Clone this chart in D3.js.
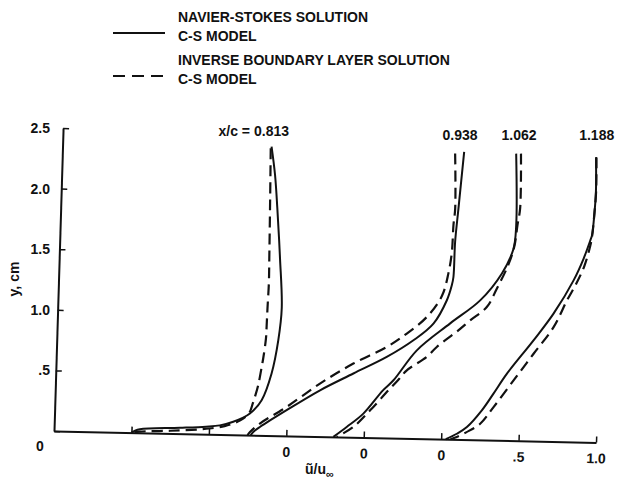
<!DOCTYPE html>
<html>
<head>
<meta charset="utf-8">
<script src="https://cdn.jsdelivr.net/npm/d3@7"></script>
<style>
  body { margin: 0; background: #fff; }
  text { font-family: "Liberation Sans", Arial, sans-serif; font-weight: bold; fill: #111; }
</style>
</head>
<body>
<svg id="chart" width="617" height="485"></svg>
<script>
// station labels and the shift of each profile along the u axis
var stations = ["0.813", "0.938", "1.062", "1.188"];
var offsets = [-2, -1, -0.5, 0];

// [u/u_inf, y (cm)], Navier-Stokes solution (solid)
var ns0813 = [[0.849,2.382],[0.877,2.149],[0.898,1.877],[0.925,1.465],[0.946,1.053],[0.93,0.788],[0.893,0.512],[0.834,0.29],[0.761,0.178],[0.655,0.107],[0.569,0.075],[0.48,0.062],[0.312,0.048],[0.054,0.03],[0.02,0.015],[0,0]];
var ns0938 = [[1.093,2.372],[1.067,1.904],[1.052,1.628],[1.048,1.339],[1.039,1.27],[1.01,1.146],[0.928,0.951],[0.802,0.81],[0.633,0.668],[0.421,0.526],[0.209,0.382],[-0.003,0.212],[-0.172,0.069],[-0.214,0.027],[-0.23,0]];
var ns1062 = [[0.929,2.367],[0.943,1.776],[0.93,1.583],[0.86,1.377],[0.725,1.151],[0.536,0.956],[0.326,0.728],[0.181,0.477],[0.115,0.392],[-0.007,0.197],[-0.112,0.084],[-0.196,0]];
var ns1188 = [[0.945,2.352],[0.951,2.064],[0.946,1.899],[0.934,1.706],[0.924,1.664],[0.884,1.512],[0.824,1.332],[0.701,1.054],[0.577,0.83],[0.412,0.551],[0.329,0.384],[0.257,0.244],[0.164,0.104],[0.1,0.047],[0.03,0]];

// inverse boundary layer solution (dashed)
var ib0813 = [[0.844,2.368],[0.851,1.873],[0.856,1.46],[0.858,1.257],[0.854,1.05],[0.852,0.91],[0.85,0.8],[0.836,0.634],[0.828,0.565],[0.809,0.413],[0.79,0.316],[0.778,0.264],[0.755,0.18],[0.7,0.12],[0.6,0.07],[0.45,0.04],[0.25,0.022],[0.05,0.01],[0,0]];
var ib0938 = [[1.035,2.357],[1.046,1.903],[1.038,1.766],[1.033,1.545],[1.015,1.37],[0.977,1.18],[0.884,1.005],[0.758,0.865],[0.632,0.751],[0.419,0.608],[0.207,0.437],[-0.003,0.239],[-0.173,0.097],[-0.235,0.026],[-0.25,0]];
var ib1062 = [[0.96,2.368],[0.965,1.914],[0.951,1.776],[0.935,1.6],[0.9,1.45],[0.83,1.25],[0.769,1.097],[0.664,0.984],[0.59,0.9],[0.454,0.759],[0.391,0.675],[0.265,0.561],[0.21,0.478],[0.15,0.393],[0.036,0.225],[-0.069,0.085],[-0.174,0]];
var ib1188 = [[0.948,2.35],[0.952,2.06],[0.946,1.9],[0.935,1.7],[0.925,1.62],[0.89,1.45],[0.84,1.3],[0.785,1.165],[0.704,0.943],[0.58,0.72],[0.456,0.497],[0.332,0.273],[0.249,0.134],[0.16,0.06],[0.1,0.02],[0.06,0]];

var xTicks = [-2, -1.5, -1, -0.5, 0, 0.5, 1];
var xTickLabels = ["", "", "0", "0", "0", ".5", "1.0"];
var yTicks = [0, 0.5, 1, 1.5, 2, 2.5];
var yTickLabels = ["0", ".5", "1.0", "1.5", "2.0", "2.5"];

var nsSeries = [ns0813, ns0938, ns1062, ns1188];
var ibSeries = [ib0813, ib0938, ib1062, ib1188];

var svg = d3.select("#chart");

// plot origin and scales (plotted abscissa = u/u_inf + profile offset)
var ox = 54, oy = 431;
var x = d3.scaleLinear().domain([-2.5, 1.0]).range([0, 542]);
var y = d3.scaleLinear().domain([0, 2.5]).range([0, -303]);

// the scanned original is slightly sheared, mimic that
var plot = svg.append("g")
  .attr("transform", "translate(" + ox + "," + oy + ") matrix(1,0.021,-0.03,1,0,0)");

// x axis, ticks pointing up, labels below
var xAxis = d3.axisBottom(x)
  .tickValues(xTicks)
  .tickSizeInner(-6)
  .tickSizeOuter(0)
  .tickPadding(11)
  .tickFormat(function(d, i) { return xTickLabels[i]; });
var gx = plot.append("g").call(xAxis);
gx.select(".domain").attr("stroke", "#111").attr("stroke-width", 2);
gx.selectAll(".tick line").attr("stroke", "#111").attr("stroke-width", 1.5);
gx.selectAll(".tick text").attr("font-size", 14).attr("font-family", null).attr("fill", "#111");

// y axis, ticks pointing right, labels drawn separately
var yAxis = d3.axisLeft(y)
  .tickValues(yTicks)
  .tickSizeInner(-6)
  .tickSizeOuter(0)
  .tickFormat("");
var gy = plot.append("g").call(yAxis);
gy.select(".domain").attr("stroke", "#111").attr("stroke-width", 2);
gy.selectAll(".tick line").attr("stroke", "#111").attr("stroke-width", 1.5);

svg.selectAll(".ylab")
  .data(yTicks)
  .enter()
  .append("text")
  .attr("class", "ylab")
  .attr("x", 50)
  .attr("y", function(d) { return oy + y(d) + (d === 0 ? 20 : 5); })
  .attr("text-anchor", function(d) { return d === 0 ? "middle" : "end"; })
  .attr("dx", function(d) { return d === 0 ? -10 : 0; })
  .attr("font-size", 14)
  .text(function(d, i) { return yTickLabels[i]; });

// profiles
var line = d3.line().curve(d3.curveCatmullRom.alpha(0.5));

function pts(series, k) {
  return series.map(function(p) { return [x(p[0] + offsets[k]), y(p[1])]; });
}

nsSeries.forEach(function(s, k) {
  plot.append("path")
    .attr("d", line(pts(s, k)))
    .attr("fill", "none")
    .attr("stroke", "#111")
    .attr("stroke-width", 2);
});
ibSeries.forEach(function(s, k) {
  plot.append("path")
    .attr("d", line(pts(s, k)))
    .attr("fill", "none")
    .attr("stroke", "#111")
    .attr("stroke-width", 2.2)
    .attr("stroke-dasharray", "11,6");
});

// station labels, centred over the top of each profile
stations.forEach(function(st, k) {
  var top = (nsSeries[k][0][0] + ibSeries[k][0][0]) / 2 + offsets[k];
  var tx = ox + x(top) + 9;
  var t = svg.append("text")
    .attr("x", tx)
    .attr("y", k === 0 ? 136 : 140)
    .attr("text-anchor", "middle")
    .attr("font-size", 14)
    .text(st);
  if (k === 0) {
    var w = t.node().getComputedTextLength();
    svg.append("text")
      .attr("x", tx - w / 2 - 4)
      .attr("y", 136)
      .attr("text-anchor", "end")
      .attr("font-size", 14)
      .text("x/c =");
  }
});

// axis titles
var xt = svg.append("text").attr("x", 305).attr("y", 474).attr("font-size", 14).text("ũ/u");
xt.append("tspan").attr("dy", 4).attr("font-size", 11).text("∞");

svg.append("text")
  .attr("transform", "translate(19,279) rotate(-90)")
  .attr("text-anchor", "middle")
  .attr("font-size", 14)
  .text("y, cm");

// legend
var legend = [
  {dash: null, y: 33, lines: ["NAVIER-STOKES SOLUTION", "C-S MODEL"], ty: 22},
  {dash: "12,7", y: 76, lines: ["INVERSE BOUNDARY LAYER SOLUTION", "C-S MODEL"], ty: 65}
];
legend.forEach(function(l) {
  svg.append("line")
    .attr("x1", 113).attr("x2", 165)
    .attr("y1", l.y).attr("y2", l.y)
    .attr("stroke", "#111")
    .attr("stroke-width", 2.2)
    .attr("stroke-dasharray", l.dash);
  l.lines.forEach(function(s, i) {
    svg.append("text")
      .attr("x", 178)
      .attr("y", l.ty + i * 18.5)
      .attr("font-size", 14)
      .text(s);
  });
});
</script>
</body>
</html>
